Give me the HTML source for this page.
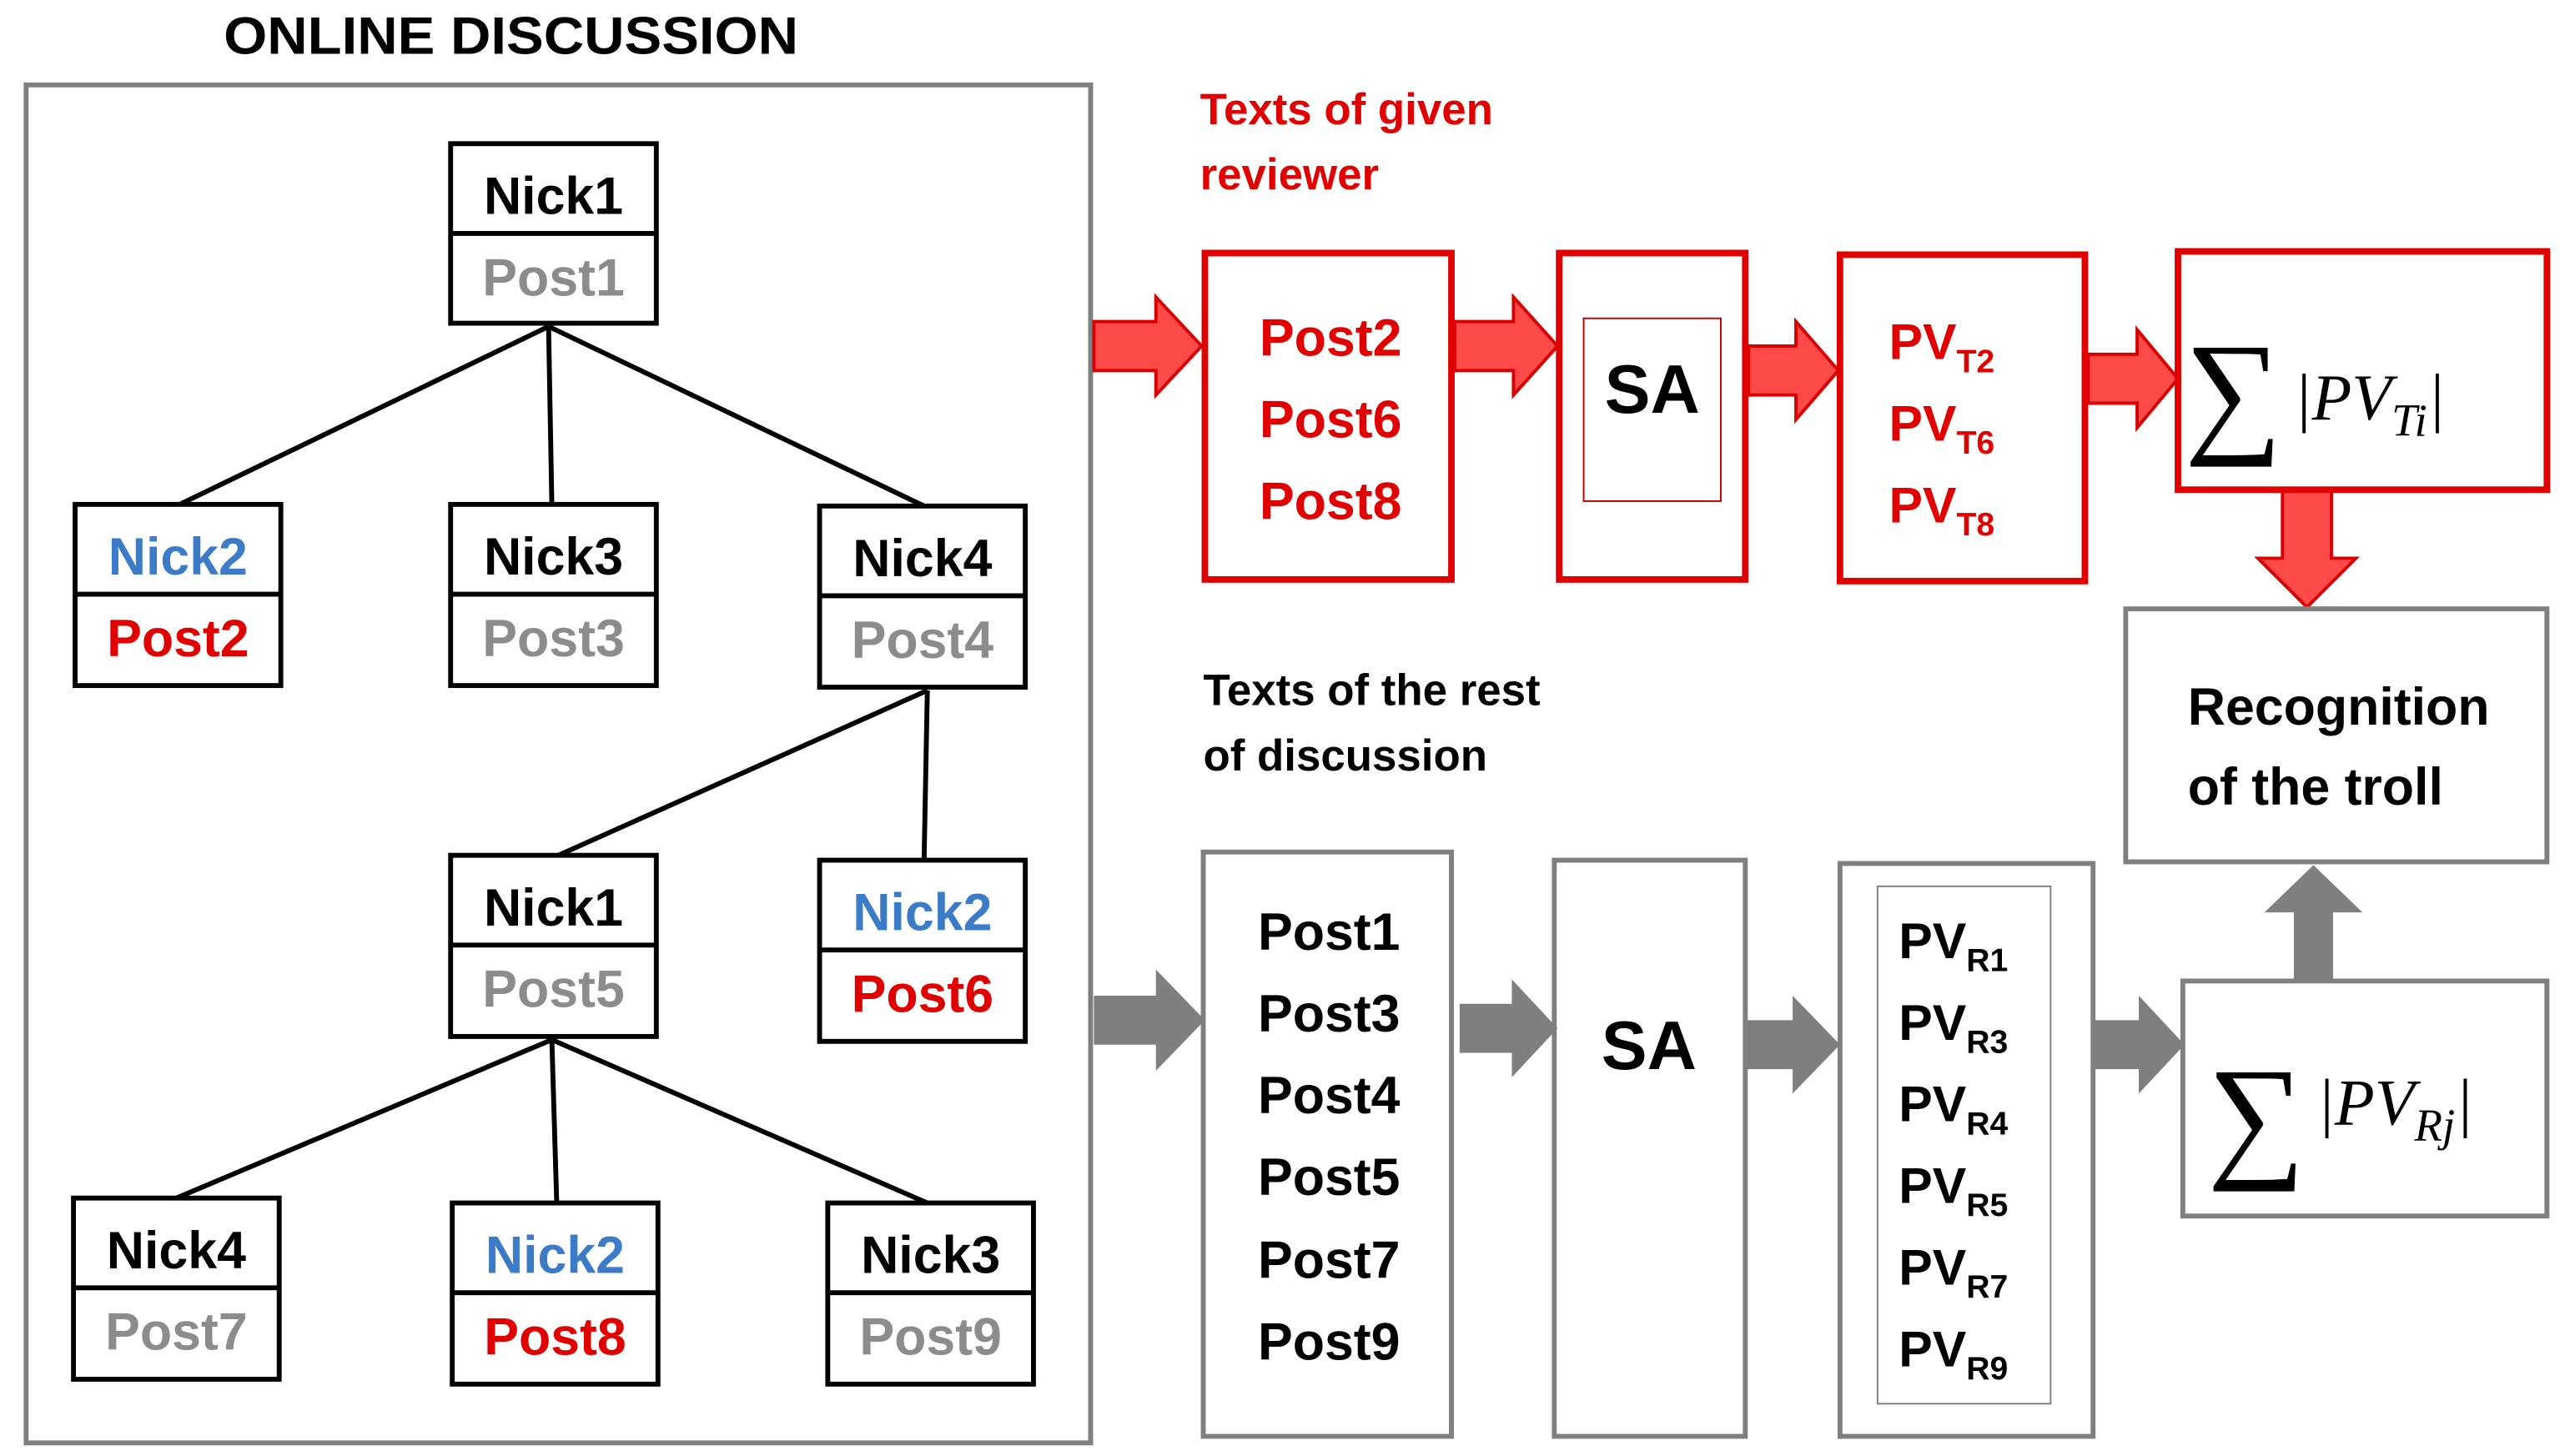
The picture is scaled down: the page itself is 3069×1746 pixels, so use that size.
<!DOCTYPE html>
<html><head><meta charset="utf-8"><style>
html,body{margin:0;padding:0;background:#fff}
svg{display:block}
text{font-family:"Liberation Sans",sans-serif;font-weight:bold}
text.m{font-family:"Liberation Serif",serif;font-weight:normal}
</style></head><body>
<svg width="3069" height="1746" viewBox="0 0 1568 892" xmlns="http://www.w3.org/2000/svg">
<rect width="1568" height="892" fill="#fff"/>
<text x="137" y="33" font-size="32" textLength="352" lengthAdjust="spacingAndGlyphs">ONLINE DISCUSSION</text>
<rect x="16" y="52" width="652" height="832" fill="none" stroke="#7f7f7f" stroke-width="3"/>
<g stroke="#000" stroke-width="3">
<line x1="336" y1="200" x2="110" y2="309"/><line x1="336" y1="200" x2="338" y2="309"/><line x1="336" y1="200" x2="566" y2="310"/>
<line x1="568" y1="423" x2="342" y2="524"/><line x1="568" y1="423" x2="566" y2="527"/>
<line x1="338" y1="637" x2="108" y2="734"/><line x1="338" y1="637" x2="341" y2="737"/><line x1="338" y1="637" x2="568" y2="737"/>
</g>
<g font-size="32" text-anchor="middle">
<g transform="translate(276,88)"><rect width="126" height="110" fill="#fff" stroke="#000" stroke-width="3"/><line x1="0" y1="55" x2="126" y2="55" stroke="#000" stroke-width="3"/><text x="63" y="43">Nick1</text><text x="63" y="93" fill="#8c8c8c">Post1</text></g>
<g transform="translate(46,309)"><rect width="126" height="111" fill="#fff" stroke="#000" stroke-width="3"/><line x1="0" y1="55" x2="126" y2="55" stroke="#000" stroke-width="3"/><text x="63" y="43" fill="#3b7bc8">Nick2</text><text x="63" y="93" fill="#e00000">Post2</text></g>
<g transform="translate(276,309)"><rect width="126" height="111" fill="#fff" stroke="#000" stroke-width="3"/><line x1="0" y1="55" x2="126" y2="55" stroke="#000" stroke-width="3"/><text x="63" y="43">Nick3</text><text x="63" y="93" fill="#8c8c8c">Post3</text></g>
<g transform="translate(502,310)"><rect width="126" height="111" fill="#fff" stroke="#000" stroke-width="3"/><line x1="0" y1="55" x2="126" y2="55" stroke="#000" stroke-width="3"/><text x="63" y="43">Nick4</text><text x="63" y="93" fill="#8c8c8c">Post4</text></g>
<g transform="translate(276,524)"><rect width="126" height="111" fill="#fff" stroke="#000" stroke-width="3"/><line x1="0" y1="55" x2="126" y2="55" stroke="#000" stroke-width="3"/><text x="63" y="43">Nick1</text><text x="63" y="93" fill="#8c8c8c">Post5</text></g>
<g transform="translate(502,527)"><rect width="126" height="111" fill="#fff" stroke="#000" stroke-width="3"/><line x1="0" y1="55" x2="126" y2="55" stroke="#000" stroke-width="3"/><text x="63" y="43" fill="#3b7bc8">Nick2</text><text x="63" y="93" fill="#e00000">Post6</text></g>
<g transform="translate(45,734)"><rect width="126" height="111" fill="#fff" stroke="#000" stroke-width="3"/><line x1="0" y1="55" x2="126" y2="55" stroke="#000" stroke-width="3"/><text x="63" y="43">Nick4</text><text x="63" y="93" fill="#8c8c8c">Post7</text></g>
<g transform="translate(277,737)"><rect width="126" height="111" fill="#fff" stroke="#000" stroke-width="3"/><line x1="0" y1="55" x2="126" y2="55" stroke="#000" stroke-width="3"/><text x="63" y="43" fill="#3b7bc8">Nick2</text><text x="63" y="93" fill="#e00000">Post8</text></g>
<g transform="translate(507,737)"><rect width="126" height="111" fill="#fff" stroke="#000" stroke-width="3"/><line x1="0" y1="55" x2="126" y2="55" stroke="#000" stroke-width="3"/><text x="63" y="43">Nick3</text><text x="63" y="93" fill="#8c8c8c">Post9</text></g>
</g>
<text x="735" y="76" font-size="27" fill="#e00000">Texts of given</text>
<text x="735" y="116" font-size="27" fill="#e00000">reviewer</text>
<g fill="#ff4a4a" stroke="#d80000" stroke-width="2">
<path d="M670,197 H708 V182 L736,212 L708,242 V227 H670 Z"/>
<path d="M891,197 H927 V182 L954,212 L927,242 V227 H891 Z"/>
<path d="M1071,212 H1100 V197 L1126,227 L1100,257 V242 H1071 Z"/>
<path d="M1279,217 H1309 V202 L1334,232 L1309,262 V247 H1279 Z"/>
<path d="M1398,301 H1428 V342 H1443 L1413,372 L1383,342 H1398 Z"/>
</g>
<g fill="none" stroke="#e00000" stroke-width="4">
<rect x="738" y="155" width="151" height="200"/>
<rect x="955" y="155" width="114" height="200"/>
<rect x="1127" y="156" width="150" height="200"/>
<rect x="1334" y="154" width="226" height="146"/>
</g>
<rect x="970" y="195" width="84" height="112" fill="none" stroke="#c00000" stroke-width="1"/>
<g font-size="32" fill="#e00000" text-anchor="middle">
<text x="815" y="218">Post2</text><text x="815" y="268">Post6</text><text x="815" y="318">Post8</text>
</g>
<text x="1012" y="253" font-size="42" text-anchor="middle">SA</text>
<g font-size="31" fill="#e00000">
<text x="1157" y="220">PV<tspan font-size="20" dy="8">T2</tspan></text>
<text x="1157" y="270">PV<tspan font-size="20" dy="8">T6</tspan></text>
<text x="1157" y="320">PV<tspan font-size="20" dy="8">T8</tspan></text>
</g>
<text class="m" x="1338" y="268" font-size="84">∑</text>
<text class="m" x="1405" y="257" font-size="40" font-style="italic">|PV<tspan font-size="28" dy="10">Ti</tspan><tspan dy="-10">|</tspan></text>
<rect x="1302" y="373" width="258" height="155" fill="none" stroke="#7f7f7f" stroke-width="3"/>
<text x="1340" y="444" font-size="32">Recognition</text>
<text x="1340" y="493" font-size="32">of the troll</text>
<text x="737" y="432" font-size="27">Texts of the rest</text>
<text x="737" y="472" font-size="27">of discussion</text>
<g fill="#7f7f7f">
<path d="M670,610 H708 V594 L738,625 L708,656 V640 H670 Z"/>
<path d="M894,615 H926 V600 L954,630 L926,660 V645 H894 Z"/>
<path d="M1070,625 H1098 V610 L1127,640 L1098,670 V655 H1070 Z"/>
<path d="M1283,625 H1310 V610 L1338,640 L1310,670 V655 H1283 Z"/>
<path d="M1405,600 H1429 V559 H1447 L1417,530 L1387,559 H1405 Z"/>
</g>
<g fill="none" stroke="#7f7f7f" stroke-width="3">
<rect x="737" y="522" width="152" height="358"/>
<rect x="952" y="527" width="117" height="353"/>
<rect x="1127" y="529" width="155" height="351"/>
<rect x="1337" y="601" width="223" height="144"/>
</g>
<rect x="1150" y="543" width="106" height="317" fill="none" stroke="#7f7f7f" stroke-width="1"/>
<g font-size="32" text-anchor="middle">
<text x="814" y="582">Post1</text><text x="814" y="632">Post3</text><text x="814" y="682">Post4</text>
<text x="814" y="732">Post5</text><text x="814" y="783">Post7</text><text x="814" y="833">Post9</text>
</g>
<text x="1010" y="655" font-size="42" text-anchor="middle">SA</text>
<g font-size="31">
<text x="1163" y="587">PV<tspan font-size="20" dy="8">R1</tspan></text>
<text x="1163" y="637">PV<tspan font-size="20" dy="8">R3</tspan></text>
<text x="1163" y="687">PV<tspan font-size="20" dy="8">R4</tspan></text>
<text x="1163" y="737">PV<tspan font-size="20" dy="8">R5</tspan></text>
<text x="1163" y="787">PV<tspan font-size="20" dy="8">R7</tspan></text>
<text x="1163" y="837">PV<tspan font-size="20" dy="8">R9</tspan></text>
</g>
<text class="m" x="1352" y="712" font-size="84">∑</text>
<text class="m" x="1419" y="689" font-size="40" font-style="italic">|PV<tspan font-size="28" dy="10">Rj</tspan><tspan dy="-10">|</tspan></text>
</svg>
</body></html>
